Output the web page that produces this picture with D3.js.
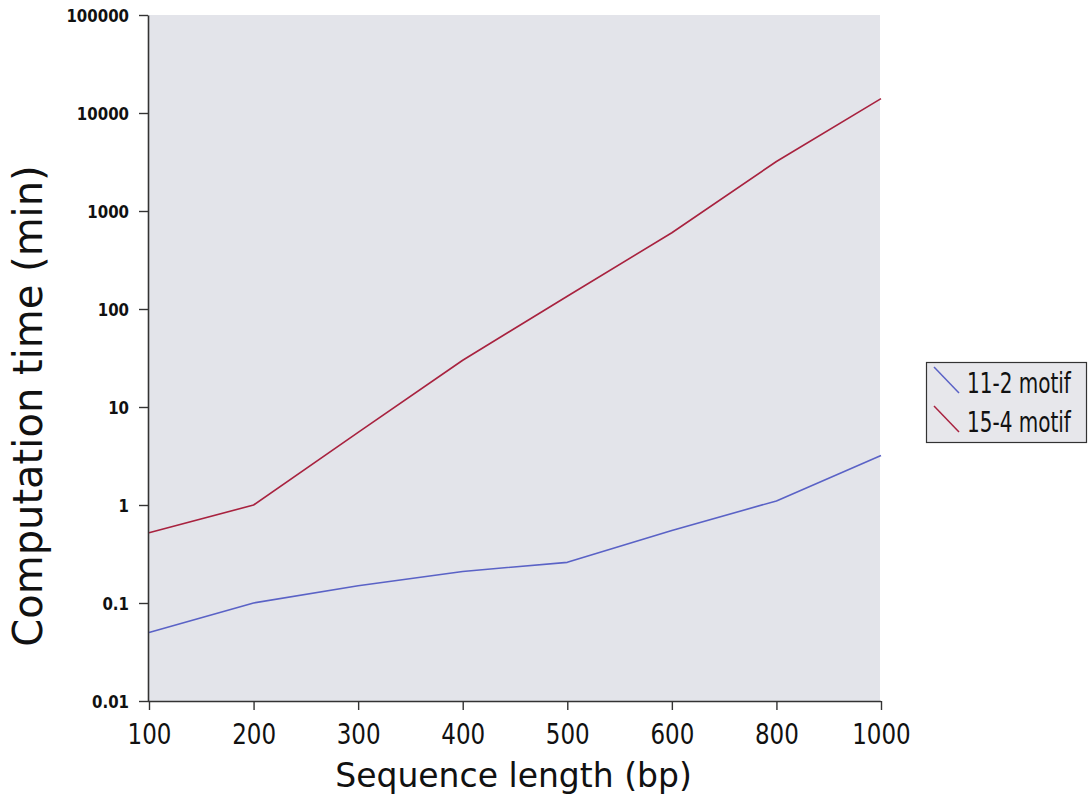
<!DOCTYPE html>
<html>
<head>
<meta charset="utf-8">
<script src="https://cdn.jsdelivr.net/npm/d3@7"></script>
<style>
  html, body { margin: 0; padding: 0; background: #ffffff; }
  svg { display: block; }
  text { font-family: "DejaVu Sans", sans-serif; fill: #111; }
</style>
</head>
<body>
<svg id="chart" width="1088" height="807"></svg>
<script>
// ---- data ----
const categories = [100, 200, 300, 400, 500, 600, 800, 1000];
const motif11_2 = [0.05, 0.1, 0.15, 0.21, 0.26, 0.55, 1.1, 3.2];
const motif15_4 = [0.52, 1.0, 5.5, 30, 135, 600, 3200, 14000];
const seriesNames = ["11-2 motif", "15-4 motif"];
const yTickValues = [0.01, 0.1, 1, 10, 100, 1000, 10000, 100000];
const yTickLabels = ["0.01", "0.1", "1", "10", "100", "1000", "10000", "100000"];
const xTitle = "Sequence length (bp)";
const yTitle = "Computation time (min)";

// ---- layout ----
const svg = d3.select("#chart");
const plotL = 148, plotR = 881, plotT = 15, plotB = 701;
const colors = ["#5a62c6", "#a8223f"];

const x = d3.scalePoint().domain(categories).range([plotL + 1, plotR]);
const y = d3.scaleLog().domain([0.01, 100000]).range([plotB, plotT]);

// plot background
svg.append("rect")
  .attr("x", plotL).attr("y", plotT)
  .attr("width", 880 - plotL).attr("height", plotB - plotT)
  .attr("fill", "#e3e4ea");

// lines
const line = d3.line().x((d, i) => x(categories[i])).y(d => y(d));
[motif11_2, motif15_4].forEach((vals, k) => {
  svg.append("path")
    .datum(vals)
    .attr("d", line)
    .attr("fill", "none")
    .attr("stroke", colors[k])
    .attr("stroke-width", 1.6)
    .attr("stroke-linejoin", "round");
});

// y axis
const yAxis = d3.axisLeft(y)
  .tickValues(yTickValues)
  .tickFormat((d, i) => yTickLabels[i])
  .tickSize(9)
  .tickSizeOuter(0);
const gy = svg.append("g").attr("transform", `translate(${plotL},0)`).call(yAxis);
gy.select(".domain").attr("stroke", "#333").attr("stroke-width", 1.6);
gy.selectAll(".tick line").attr("stroke", "#333").attr("stroke-width", 1.4);
gy.selectAll(".tick text")
  .attr("x", null).attr("dy", null).attr("y", null)
  .attr("text-anchor", "end")
  .attr("font-family", "DejaVu Sans, sans-serif")
  .attr("font-weight", "bold")
  .attr("font-size", 15)
  .attr("fill", "#111")
  .attr("transform", "translate(-19,6.3) scale(1,1.18)");

// x axis
const xAxis = d3.axisBottom(x).tickSize(9).tickSizeOuter(0);
const gx = svg.append("g").attr("transform", `translate(0,${plotB})`).call(xAxis);
gx.select(".domain").attr("stroke", "#333").attr("stroke-width", 1.6)
  .attr("d", `M${plotL},0.5H${plotR}`);
gx.selectAll(".tick line").attr("stroke", "#333").attr("stroke-width", 1.4);
gx.selectAll(".tick text")
  .attr("y", null).attr("dy", null)
  .attr("text-anchor", "middle")
  .attr("font-family", "DejaVu Sans, sans-serif")
  .attr("font-size", 23)
  .attr("fill", "#111")
  .attr("transform", "translate(0,43) scale(1,1.25)");

// axis titles
svg.append("text")
  .attr("x", (plotL + plotR) / 2 - 1)
  .attr("y", 787)
  .attr("text-anchor", "middle")
  .attr("font-size", 33)
  .text(xTitle);

svg.append("text")
  .attr("transform", "translate(42,406) rotate(-90)")
  .attr("text-anchor", "middle")
  .attr("font-size", 40)
  .text(yTitle);

// legend
const lg = svg.append("g");
lg.append("rect")
  .attr("x", 926.5).attr("y", 362.5)
  .attr("width", 160).attr("height", 80)
  .attr("fill", "#e7e7eb")
  .attr("stroke", "#333").attr("stroke-width", 1.2);
const rowBase = [393, 432];
seriesNames.forEach((name, k) => {
  lg.append("line")
    .attr("x1", 934).attr("y1", rowBase[k] - 26)
    .attr("x2", 959).attr("y2", rowBase[k])
    .attr("stroke", colors[k]).attr("stroke-width", 1.5);
  lg.append("text")
    .attr("transform", `translate(967,${rowBase[k]}) scale(1,1.4)`)
    .attr("font-size", 20)
    .text(name);
});
</script>
</body>
</html>
